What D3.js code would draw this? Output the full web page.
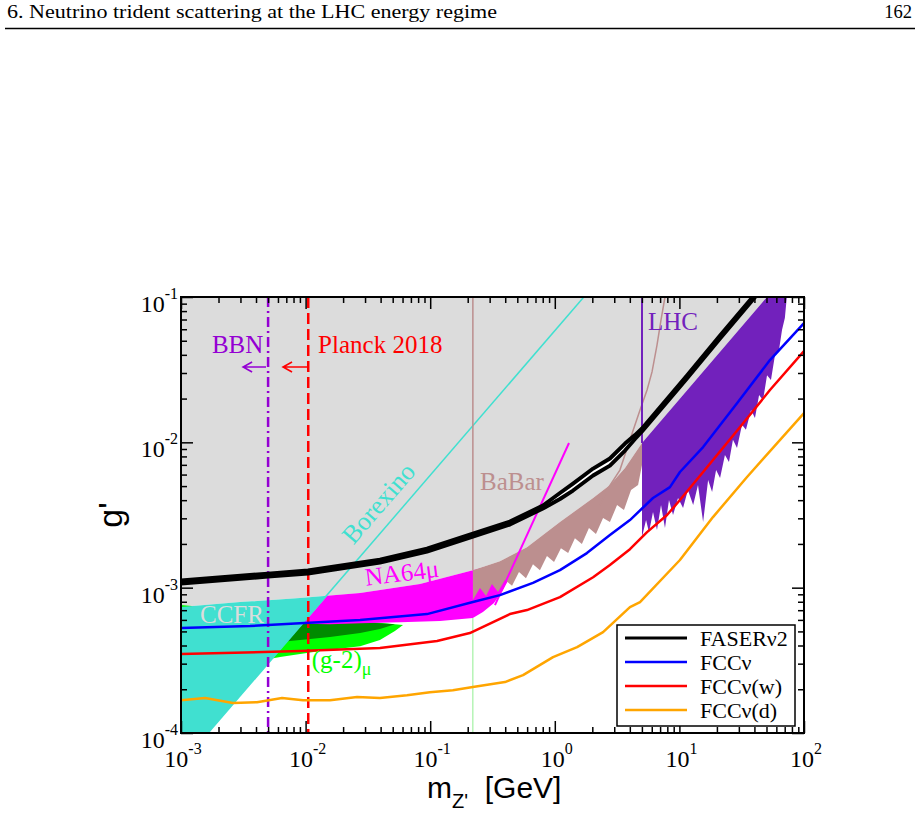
<!DOCTYPE html>
<html>
<head>
<meta charset="utf-8">
<title>Z' sensitivity</title>
<script src="https://cdn.jsdelivr.net/npm/d3@7/dist/d3.min.js"></script>
<style>
  body { margin: 0; background: #fff; }
  text { font-family: "Liberation Serif", "DejaVu Serif", serif; }
</style>
</head>
<body>
<div class="box"></div>
<script>
// DATA  (mass m_Z' in GeV, coupling g')

const headerTitle = '6. Neutrino trident scattering at the LHC energy regime';
const headerPage = '162';

const xMajor = [1e-3, 1e-2, 1e-1, 1, 10, 100];
const yMajor = [1e-4, 1e-3, 1e-2, 1e-1];

// FASERnu2 (drawn as two close edges)
const faserMass  = [1.00e-3, 4.99e-3, 1.045e-2, 3.95e-2, 9.42e-2, 0.220, 0.436, 0.803, 1.10, 1.40, 2.03, 2.77, 3.66, 4.40, 5.01, 11.5, 21.2, 39.0, 53.3];
const faserUpper = [1.119e-3, 1.250e-3, 1.312e-3, 1.561e-3, 1.858e-3, 2.356e-3, 2.851e-3, 3.673e-3, 4.478e-3, 5.202e-3, 6.60e-3, 7.74e-3, 9.81e-3, 1.122e-2, 1.245e-2, 2.88e-2, 5.43e-2, 0.1007, 0.138];
const faserLower = [1.067e-3, 1.192e-3, 1.250e-3, 1.489e-3, 1.772e-3, 2.248e-3, 2.718e-3, 3.502e-3, 4.074e-3, 4.659e-3, 5.91e-3, 6.92e-3, 8.78e-3, 1.054e-2, 1.187e-2, 2.75e-2, 5.18e-2, 9.61e-2, 0.132];

// FCCnu
const fccMass = [1.00e-3, 3.58e-3, 9.02e-3, 2.74e-2, 9.42e-2, 0.220, 0.363, 0.668, 1.10, 1.81, 2.77, 4.01, 6.14, 8.40, 10.1, 15.5, 29.0, 53.3, 100];
const fccG    = [5.27e-4, 5.45e-4, 5.70e-4, 5.98e-4, 6.58e-4, 7.96e-4, 8.89e-4, 1.08e-3, 1.32e-3, 1.73e-3, 2.30e-3, 2.92e-3, 4.14e-3, 4.92e-3, 6.25e-3, 9.28e-3, 1.86e-2, 3.68e-2, 6.62e-2];

// FCCnu(w)
const fccwMass = [1.00e-3, 9.02e-3, 3.95e-2, 0.1135, 0.208, 0.436, 0.598, 1.10, 2.03, 2.77, 4.01, 5.50, 7.96, 10.1, 15.5, 29.0, 53.3, 100];
const fccwG    = [3.49e-4, 3.66e-4, 3.84e-4, 4.29e-4, 4.87e-4, 6.58e-4, 7.01e-4, 8.61e-4, 1.18e-3, 1.43e-3, 1.84e-3, 2.41e-3, 3.16e-3, 4.01e-3, 6.25e-3, 1.20e-2, 2.29e-2, 4.25e-2];

// FCCnu(d)
const fccdMass = [1.00e-3, 1.56e-3, 2.61e-3, 4.07e-3, 6.47e-3, 9.53e-3, 1.57e-2, 2.59e-2, 3.95e-2, 6.51e-2, 9.95e-2, 0.152, 0.220, 0.398, 0.556, 0.968, 1.51, 2.44, 4.01, 4.83, 10.1, 18.6, 34.9, 100];
const fccdG    = [1.68e-4, 1.74e-4, 1.61e-4, 1.63e-4, 1.74e-4, 1.68e-4, 1.68e-4, 1.77e-4, 1.74e-4, 1.82e-4, 1.91e-4, 1.97e-4, 2.07e-4, 2.24e-4, 2.50e-4, 3.33e-4, 3.90e-4, 4.94e-4, 7.35e-4, 7.96e-4, 1.55e-3, 3.06e-3, 5.77e-3, 1.59e-2];

// CCFR region (top edge, then down the Borexino line)
const ccfrMass = [1.00e-3, 2.98e-3, 9.02e-3, 1.49e-2, 1.65e-3, 1.00e-3];
const ccfrG    = [7.35e-4, 7.96e-4, 8.48e-4, 8.80e-4, 1.00e-4, 1.00e-4];

// Borexino line
const borexMass = [1.65e-3, 1.71];
const borexG    = [1.00e-4, 0.100];

// NA64mu region outline and its projection line
const na64Mass = [9.53e-3, 1.49e-2, 2.74e-2, 8.28e-2, 0.220, 0.363, 0.480, 0.480, 0.436, 0.384, 0.325, 0.265, 0.220, 0.120, 5.73e-2, 2.74e-2, 1.57e-2];
const na64G    = [5.65e-4, 8.80e-4, 9.19e-4, 1.06e-3, 1.32e-3, 1.48e-3, 1.55e-3, 1.41e-3, 1.18e-3, 9.62e-4, 7.83e-4, 6.79e-4, 6.18e-4, 5.89e-4, 5.79e-4, 5.70e-4, 5.61e-4];
const na64LineMass = [0.331, 1.30];
const na64LineG    = [7.59e-4, 9.89e-3];

// (g-2)mu bands: 2 sigma (light) and 1 sigma (dark)
const g2wUpMass = [1.00e-3, 7.50e-3, 2.27e-2, 6.05e-2];
const g2wUpG    = [7.59e-4, 6.48e-4, 5.98e-4, 5.53e-4];
const g2wLoMass = [1.00e-3, 6.24e-3, 1.31e-2, 2.74e-2, 3.95e-2, 5.21e-2, 6.05e-2];
const g2wLoG    = [2.50e-4, 3.33e-4, 3.66e-4, 3.96e-4, 4.36e-4, 5.03e-4, 5.53e-4];
const g2nUpMass = [1.00e-3, 9.02e-3, 5.21e-2];
const g2nUpG    = [7.01e-4, 6.18e-4, 5.61e-4];
const g2nLoMass = [1.00e-3, 7.50e-3, 1.57e-2, 2.74e-2, 3.95e-2, 5.21e-2];
const g2nLoG    = [3.60e-4, 4.29e-4, 4.57e-4, 4.88e-4, 5.19e-4, 5.61e-4];

// BaBar region
const babarTopMass = [0.220, 0.363, 0.598, 1.10, 2.03, 2.77, 3.66, 5.01];
const babarTopG    = [1.32e-3, 1.52e-3, 1.90e-3, 2.83e-3, 4.14e-3, 5.08e-3, 6.65e-3, 9.89e-3];
const babarLowMass = [0.220, 0.251, 0.281, 0.313, 0.350, 0.398, 0.454, 0.516, 0.587, 0.668, 0.760, 0.865, 0.986, 1.12, 1.28, 1.45, 1.65, 1.88, 2.14, 2.44, 2.77, 3.16, 3.59, 4.09, 4.66, 5.01];
const babarLowG    = [8.22e-4, 9.93e-4, 8.75e-4, 1.06e-3, 9.33e-4, 1.13e-3, 1.03e-3, 1.28e-3, 1.16e-3, 1.45e-3, 1.32e-3, 1.65e-3, 1.50e-3, 1.87e-3, 1.73e-3, 2.19e-3, 2.00e-3, 2.57e-3, 2.34e-3, 3.01e-3, 2.83e-3, 3.70e-3, 3.42e-3, 4.70e-3, 5.08e-3, 6.98e-3];
const babarCurveMass = [2.31, 2.62, 3.33, 4.01, 4.83, 5.50, 6.03, 6.61, 7.12, 7.66];
const babarCurveG    = [3.70e-3, 4.70e-3, 6.44e-3, 1.04e-2, 1.67e-2, 2.29e-2, 3.05e-2, 4.67e-2, 6.95e-2, 0.100];
const babarEdgeMass = 0.22;

// LHC region
const lhcTopMass = [5.01, 50.5, 72.8];
const lhcTopG    = [9.89e-3, 0.100, 0.100];
const lhcLowMass = [5.01, 5.40, 5.70, 6.14, 6.61, 7.12, 7.66, 8.25, 8.89, 9.75, 10.7, 11.7, 12.9, 14.1, 15.5, 17.0, 18.3, 19.7, 21.2, 23.2, 25.0, 26.9, 29.0, 31.8, 34.2, 37.6, 40.4, 43.6, 46.9, 50.5, 54.3, 58.5, 63.0, 66.6, 70.2, 72.8];
const lhcLowG    = [2.23e-3, 2.92e-3, 2.41e-3, 3.31e-3, 2.49e-3, 3.70e-3, 2.57e-3, 4.01e-3, 3.16e-3, 4.14e-3, 3.53e-3, 4.70e-3, 3.70e-3, 5.08e-3, 2.83e-3, 5.51e-3, 4.55e-3, 6.44e-3, 5.68e-3, 8.18e-3, 7.31e-3, 1.04e-2, 9.14e-3, 1.32e-2, 1.22e-2, 1.67e-2, 1.47e-2, 2.12e-2, 1.95e-2, 2.90e-2, 2.68e-2, 3.99e-2, 4.32e-2, 5.93e-2, 7.17e-2, 0.100];

// cosmology bounds (vertical lines)
const bbnMass = 5.0e-3;
const planckMass = 1.05e-2;

// annotations
const noteNames = ['BBN', 'Planck 2018', 'LHC', 'BaBar', 'Borexino', 'NA64μ', 'CCFR', '(g-2)'];
const noteMass  = [1.77e-3, 1.26e-2, 5.60, 0.251, 4.34e-2, 3.05e-2, 1.42e-3, 1.12e-2];
const noteG     = [4.12e-2, 4.12e-2, 5.93e-2, 4.70e-3, 3.48e-3, 1.03e-3, 5.70e-4, 2.80e-4];
const arrowMass = [[4.81e-3, 3.15e-3], [1.03e-2, 6.59e-3]];
const arrowG    = [3.30e-2, 3.30e-2];

const legendNames = ['FASERν2', 'FCCν', 'FCCν(w)', 'FCCν(d)'];

// STYLE
const col = {
  gray: '#dcdcdc', ccfr: '#40e0d0', na64: '#ff00ff', g2w: '#00ff00', g2n: '#008b00',
  babar: '#bc8f8f', lhc: '#7221bc', bbn: '#9400d3', planck: '#ff0000',
  faser: '#000000', fcc: '#0000ff', fccw: '#ff0000', fccd: '#ffa500'
};
const noteColors = [col.bbn, col.planck, col.lhc, col.babar, col.ccfr, col.na64, '#dcdcdc', col.g2w];

// SETUP
const dims = {width: 920, height: 815, left: 181, right: 804, top: 297, bottom: 733};

const svg = d3.select('.box')
              .append('svg')
              .attr('width', dims.width)
              .attr('height', dims.height)
              .style('background', '#fff');

const x = d3.scaleLog().domain([1e-3, 1e2]).range([dims.left, dims.right]);
const y = d3.scaleLog().domain([1e-4, 1e-1]).range([dims.bottom, dims.top]);

const zip = (ms, gs) => ms.map((m, i) => [m, gs[i]]);
const line = d3.line().x(d => x(d[0])).y(d => y(d[1]));
const poly = pts => line(pts) + 'Z';

// page header
svg.append('text').attr('x', 7).attr('y', 18).attr('font-size', 18.5)
   .attr('textLength', 490).attr('lengthAdjust', 'spacingAndGlyphs').text(headerTitle);
svg.append('text').attr('x', 912).attr('y', 18).attr('font-size', 18.5)
   .attr('text-anchor', 'end').text(headerPage);
svg.append('line').attr('x1', 5).attr('x2', 915).attr('y1', 28.5).attr('y2', 28.5)
   .attr('stroke', '#000').attr('stroke-width', 1.3);

svg.append('defs').append('clipPath').attr('id', 'plotclip')
   .append('rect')
   .attr('x', dims.left).attr('y', dims.top)
   .attr('width', dims.right - dims.left).attr('height', dims.bottom - dims.top);

const plot = svg.append('g').attr('clip-path', 'url(#plotclip)');

// REGIONS

const ccfrPts = zip(ccfrMass, ccfrG);
const na64Pts = zip(na64Mass, na64G);
const babarTop = zip(babarTopMass, babarTopG);
const lhcTop = zip(lhcTopMass, lhcTopG);

// excluded (gray) area: everything above CCFR, NA64mu, BaBar and LHC edges
const grayPts = [[1e-3, 0.1], lhcTop[1], lhcTop[0]]
  .concat(babarTop.slice().reverse())
  .concat(na64Pts.slice(1, 5).reverse())
  .concat(ccfrPts.slice(0, 4).reverse());
plot.append('path').attr('d', poly(grayPts)).attr('fill', col.gray);

// (g-2)mu bands
plot.append('path')
    .attr('d', poly(zip(g2wUpMass, g2wUpG).concat(zip(g2wLoMass, g2wLoG).reverse())))
    .attr('fill', col.g2w);
plot.append('path')
    .attr('d', poly(zip(g2nUpMass, g2nUpG).concat(zip(g2nLoMass, g2nLoG).reverse())))
    .attr('fill', col.g2n);

plot.append('path').attr('d', poly(ccfrPts)).attr('fill', col.ccfr);
plot.append('path').attr('d', poly(na64Pts)).attr('fill', col.na64);
plot.append('path')
    .attr('d', poly(babarTop.concat(zip(babarLowMass, babarLowG).reverse())))
    .attr('fill', col.babar);
plot.append('path')
    .attr('d', poly(lhcTop.concat(zip(lhcLowMass, lhcLowG).reverse())))
    .attr('fill', col.lhc);

// thin lines
const thin = [
  {pts: zip(babarCurveMass, babarCurveG), c: col.babar, w: 1.5},
  {pts: zip(borexMass, borexG), c: col.ccfr, w: 1.5},
  {pts: zip(na64LineMass, na64LineG), c: col.na64, w: 2},
  {pts: [[babarEdgeMass, 0.1], [babarEdgeMass, babarTopG[0]]], c: col.babar, w: 1.5},
  {pts: [[babarEdgeMass, na64G[12]], [babarEdgeMass, 1e-4]], c: '#90ee90', w: 1},
  {pts: [[lhcTopMass[0], 0.1], lhcTop[0]], c: col.lhc, w: 2}
];
plot.selectAll('path.thin')
    .data(thin)
    .enter()
    .append('path')
    .attr('class', 'thin')
    .attr('d', d => line(d.pts))
    .attr('fill', 'none')
    .attr('stroke', d => d.c)
    .attr('stroke-width', d => d.w);

// cosmology lines
plot.append('path').attr('d', line([[bbnMass, 0.1], [bbnMass, 1e-4]]))
    .attr('stroke', col.bbn).attr('stroke-width', 2.5).attr('stroke-dasharray', '10,4,2,4');
plot.append('path').attr('d', line([[planckMass, 0.1], [planckMass, 1e-4]]))
    .attr('stroke', col.planck).attr('stroke-width', 2.5).attr('stroke-dasharray', '11,5');

// FCC curves
const curves = [
  {pts: zip(fccdMass, fccdG), c: col.fccd},
  {pts: zip(fccwMass, fccwG), c: col.fccw},
  {pts: zip(fccMass, fccG), c: col.fcc}
];
plot.selectAll('path.curve')
    .data(curves)
    .enter()
    .append('path')
    .attr('class', 'curve')
    .attr('d', d => line(d.pts))
    .attr('fill', 'none')
    .attr('stroke', d => d.c)
    .attr('stroke-width', 2.5)
    .attr('stroke-linejoin', 'round');

// FASERnu2 double line (merges into one thick line where edges touch)
const fUp = zip(faserMass, faserUpper);
const fLo = zip(faserMass, faserLower);
plot.append('path').attr('d', poly(fUp.concat(fLo.slice().reverse()))).attr('fill', '#fff');
[fUp, fLo].forEach(pts => {
  plot.append('path').attr('d', line(pts))
      .attr('fill', 'none').attr('stroke', col.faser).attr('stroke-width', 3.9)
      .attr('stroke-linejoin', 'round');
});

// ANNOTATIONS
const borexAngle = Math.atan2(y(borexG[1]) - y(borexG[0]), x(borexMass[1]) - x(borexMass[0])) * 180 / Math.PI;
const noteRot = [0, 0, 0, 0, borexAngle, -7, 0, 0];
const noteAnchor = ['start', 'start', 'start', 'start', 'middle', 'start', 'start', 'start'];
const noteSize = [25, 25, 25, 25, 26, 25, 25, 25];

noteNames.forEach((t, i) => {
  const px = x(noteMass[i]), py = y(noteG[i]);
  const txt = svg.append('text')
     .attr('transform', `translate(${px},${py}) rotate(${noteRot[i]})`)
     .attr('text-anchor', noteAnchor[i])
     .attr('font-size', noteSize[i])
     .attr('fill', noteColors[i])
     .text(t);
  if (t === '(g-2)') {
    txt.append('tspan').attr('dy', 7).attr('font-size', 18).text('μ');
  }
});

// arrows pointing to lower masses
arrowMass.forEach((ms, i) => {
  const c = i === 0 ? col.bbn : col.planck;
  const x1 = x(ms[0]), x2 = x(ms[1]), yy = y(arrowG[i]);
  svg.append('path')
     .attr('d', `M${x1},${yy}H${x2}M${x2 + 9},${yy - 5}L${x2},${yy}L${x2 + 9},${yy + 5}`)
     .attr('fill', 'none').attr('stroke', c).attr('stroke-width', 1.6);
});

// AXES
const axes = [
  {gen: d3.axisBottom, s: x, major: xMajor, tr: `translate(0,${dims.bottom})`},
  {gen: d3.axisTop, s: x, major: xMajor, tr: `translate(0,${dims.top})`},
  {gen: d3.axisLeft, s: y, major: yMajor, tr: `translate(${dims.left},0)`},
  {gen: d3.axisRight, s: y, major: yMajor, tr: `translate(${dims.right},0)`}
];
axes.forEach(a => {
  const minor = a.s.ticks().filter(v => !a.major.some(mj => Math.abs(v / mj - 1) < 1e-6));
  [[minor, -6], [a.major, -12]].forEach(([vals, size]) => {
    svg.append('g')
       .attr('transform', a.tr)
       .call(a.gen(a.s).tickValues(vals).tickSize(size).tickFormat(''))
       .call(g => g.select('.domain').remove())
       .selectAll('line').attr('stroke-width', 1.5);
  });
});

svg.append('rect')
   .attr('x', dims.left).attr('y', dims.top)
   .attr('width', dims.right - dims.left).attr('height', dims.bottom - dims.top)
   .attr('fill', 'none').attr('stroke', '#000').attr('stroke-width', 2);

// tick labels 10^n
const tickLabel = (sel) => sel.each(function(d) {
  const t = d3.select(this);
  t.append('tspan').text('10');
  t.append('tspan').attr('dy', -13).attr('font-size', 16).text(Math.round(Math.log10(d)));
});

svg.append('g').selectAll('text')
   .data(xMajor).enter().append('text')
   .attr('x', d => x(d) + 2).attr('y', dims.bottom + 34)
   .attr('text-anchor', 'middle').attr('font-size', 24)
   .call(tickLabel);

svg.append('g').selectAll('text')
   .data(yMajor).enter().append('text')
   .attr('x', dims.left - 3).attr('y', d => y(d) + 15)
   .attr('text-anchor', 'end').attr('font-size', 24)
   .call(tickLabel);

// axis titles
svg.append('text')
   .attr('transform', 'translate(122,515) rotate(-90)')
   .attr('text-anchor', 'middle')
   .style('font-family', '"Liberation Sans", Arial, sans-serif')
   .attr('font-size', 34)
   .text("g'");

const xt = svg.append('text')
   .attr('x', 427).attr('y', 798)
   .style('font-family', '"Liberation Sans", Arial, sans-serif')
   .attr('font-size', 30);
xt.append('tspan').text('m');
xt.append('tspan').attr('dy', 10).attr('font-size', 20).text("Z'");
xt.append('tspan').attr('dy', -10).text('  [GeV]').attr('xml:space', 'preserve');

// LEGEND
const legend = svg.append('g').attr('transform', 'translate(617,625)');
legend.append('rect').attr('width', 178).attr('height', 101)
      .attr('fill', '#fff').attr('stroke', '#000').attr('stroke-width', 1.5);
const legendColors = [col.faser, col.fcc, col.fccw, col.fccd];
legendNames.forEach((n, i) => {
  const ly = 13 + i * 24;
  legend.append('line').attr('x1', 8).attr('x2', 70).attr('y1', ly).attr('y2', ly)
        .attr('stroke', legendColors[i]).attr('stroke-width', i === 0 ? 3.2 : 2.5);
  legend.append('text').attr('x', 83).attr('y', ly + 8).attr('font-size', 22).text(n);
});
</script>
</body>
</html>
